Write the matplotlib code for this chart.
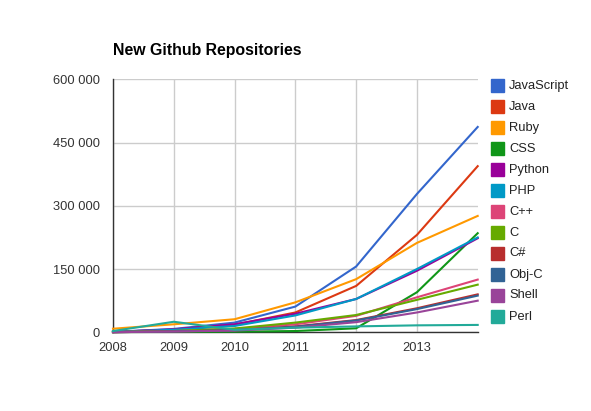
import matplotlib
matplotlib.use("Agg")
import matplotlib.pyplot as plt
from matplotlib.patches import Rectangle
from matplotlib.ticker import FuncFormatter

plt.rcParams["font.family"] = ["Liberation Sans", "DejaVu Sans"]

# Donnees
years = [2008, 2009, 2010, 2011, 2012, 2013, 2014]
languages = ["JavaScript", "Java", "Ruby", "CSS", "Python", "PHP",
             "C++", "C", "C#", "Obj-C", "Shell", "Perl"]
javascript = [1000, 8000, 23000, 61000, 156000, 328000, 487000]
java = [1000, 6000, 18000, 47000, 110000, 231000, 394000]
ruby = [8500, 19000, 31000, 71000, 126000, 212000, 276000]
css = [500, 1000, 1500, 3000, 9500, 95000, 235000]
python = [1000, 7000, 19000, 44000, 79000, 146000, 223000]
php = [1000, 6000, 15000, 40000, 79000, 150000, 225000]
cpp = [500, 3000, 8000, 19000, 39000, 83000, 125000]
c = [500, 3000, 9000, 23000, 41000, 77000, 113000]
csharp = [300, 2000, 5000, 14000, 29000, 57000, 90000]
objc = [300, 2000, 5000, 13000, 28000, 55000, 87000]
shell = [300, 2000, 4000, 11000, 24000, 47000, 75000]
perl = [3000, 25000, 6000, 11000, 14000, 16500, 17500]
series = [javascript, java, ruby, css, python, php, cpp, c, csharp, objc, shell, perl]

colors = ["#3366cc", "#dc3912", "#ff9900", "#109618", "#990099", "#0099c6",
          "#dd4477", "#66aa00", "#b82e2e", "#316395", "#994499", "#22aa99"]

y_ticks = [0, 150000, 300000, 450000, 600000]
x_ticks = [2008, 2009, 2010, 2011, 2012, 2013]

fig = plt.figure(figsize=(5.91, 4.11), dpi=100)
ax = fig.add_axes([113 / 591, 1 - 332.3 / 411, (477.7 - 113) / 591, (332.3 - 79.3) / 411])

for vals, col in zip(series, colors):
    ax.plot(years, vals, color=col, lw=1.5, solid_joinstyle="miter", clip_on=False, zorder=3)

ax.set_xlim(2008, 2014)
ax.set_ylim(0, 600000)
ax.set_xticks(x_ticks)
ax.set_yticks(y_ticks)
ax.yaxis.set_major_formatter(FuncFormatter(lambda v, p: f"{int(v):,}".replace(",", " ")))
ax.grid(True, color="#cccccc", lw=1)
ax.set_axisbelow(True)
ax.tick_params(length=0, labelsize=9.3, colors="#333333")
ax.tick_params(axis="y", pad=9.4)
ax.tick_params(axis="x", pad=7.3)
for s in ["top", "right"]:
    ax.spines[s].set_visible(False)
for s in ["left", "bottom"]:
    ax.spines[s].set_color("#333333")
    ax.spines[s].set_linewidth(1)

fig.text(113 / 591, 1 - 50 / 411, "New Github Repositories", fontsize=11.4, fontweight="bold",
         va="center", ha="left", color="#000000")

# legende
for i, (name, col) in enumerate(zip(languages, colors)):
    y = 79 + i * 21
    fig.patches.append(Rectangle((491 / 591, 1 - (y + 13) / 411), 13 / 591, 13 / 411,
                                 transform=fig.transFigure, color=col))
    fig.text(509 / 591, 1 - (y + 6.5) / 411, name, fontsize=9.3, va="center",
             ha="left", color="#222222")

fig.savefig("out.png", dpi=100)
